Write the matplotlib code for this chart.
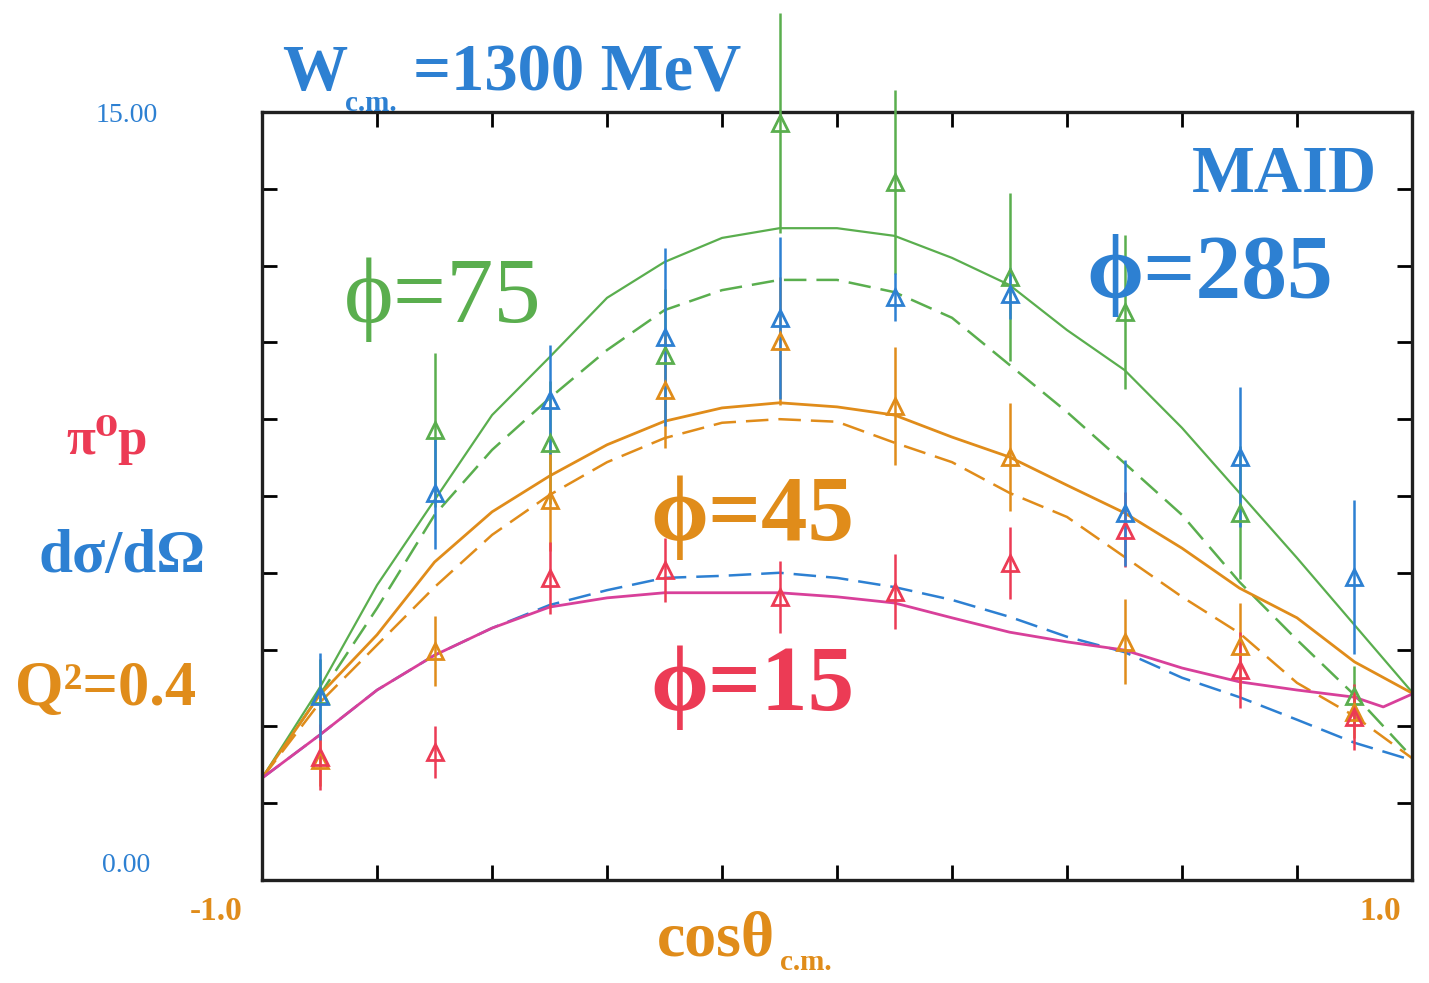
import numpy as np
import matplotlib
matplotlib.use("Agg")
import matplotlib.pyplot as plt

plt.rcParams['font.family'] = ['Liberation Serif', 'DejaVu Serif']

GREEN = '#5aae4e'
ORANGE = '#e08c1a'
BLUE = '#2d80d2'
RED = '#ec3b55'
MAGENTA = '#d8409a'

# MAID curves on a common cos(theta) grid
cos_grid = np.round(np.arange(-1.0, 1.01, 0.1), 2)
maid75 = [1.99, 3.75, 5.76, 7.42, 9.08, 10.21, 11.37, 12.07, 12.54, 12.73, 12.73,
          12.58, 12.15, 11.62, 10.74, 9.96, 8.83, 7.56, 6.29, 4.98, 3.67]
maid75_dash = [1.99, 3.61, 5.31, 7.13, 8.40, 9.41, 10.35, 11.13, 11.52, 11.72, 11.72,
               11.48, 10.98, 10.06, 9.14, 8.14, 7.13, 5.82, 4.69, 3.61, 2.40]
maid45 = [1.99, 3.61, 4.79, 6.21, 7.19, 7.89, 8.50, 8.96, 9.22, 9.32, 9.24,
          9.08, 8.65, 8.26, 7.71, 7.17, 6.48, 5.70, 5.12, 4.26, 3.65]
maid45_dash = [1.99, 3.46, 4.59, 5.72, 6.74, 7.52, 8.16, 8.63, 8.93, 9.00, 8.95,
               8.54, 8.16, 7.56, 7.09, 6.31, 5.53, 4.82, 3.85, 3.20, 2.38]
maid285_dash = [1.99, 2.83, 3.71, 4.39, 4.92, 5.37, 5.66, 5.90, 5.94, 6.00, 5.90,
                5.72, 5.47, 5.14, 4.75, 4.45, 3.95, 3.57, 3.13, 2.68, 2.34]
cos15 = [-1.0, -0.9, -0.8, -0.7, -0.6, -0.5, -0.4, -0.3, -0.2, -0.1, 0.0,
         0.1, 0.2, 0.3, 0.4, 0.5, 0.6, 0.7, 0.8, 0.9, 0.95, 1.0]
maid15 = [1.99, 2.83, 3.71, 4.39, 4.92, 5.33, 5.51, 5.61, 5.61, 5.61, 5.53,
          5.41, 5.12, 4.84, 4.65, 4.49, 4.14, 3.87, 3.71, 3.57, 3.38, 3.63]

# measured cross sections with errors
cos_pts = [-0.9, -0.7, -0.5, -0.3, -0.1, 0.1, 0.3, 0.5, 0.7, 0.9]
phi75 = [3.61, 8.79, 8.54, 10.25, 14.79, 13.63, 11.78, 11.09, 7.17, 3.60]
phi75_err = [0.7, 1.5, 1.2, 1.3, 2.15, 1.8, 1.64, 1.5, 1.3, 0.57]
phi45 = [2.34, 4.47, 7.42, 9.57, 10.53, 9.26, 8.26, 4.65, 4.57, 3.28]
phi45_err = [0.5, 0.68, 1.0, 1.13, 1.25, 1.15, 1.06, 0.83, 0.84, 0.5]
phi15 = [2.40, 2.50, 5.90, 6.05, 5.53, 5.63, 6.19, 6.84, 4.10, 3.18]
phi15_err = [0.65, 0.5, 0.7, 0.63, 0.7, 0.73, 0.71, 0.73, 0.74, 0.65]
phi285 = [3.59, 7.56, 9.38, 10.61, 10.98, 11.39, 11.45, 7.17, 8.26, 5.92]
phi285_err = [0.85, 1.1, 1.07, 1.74, 1.58, 0.47, 0.5, 1.04, 1.37, 1.5]

fig = plt.figure(figsize=(14.29, 9.83), dpi=100)
ax = fig.add_axes([0.1834, 0.1048, 0.8047, 0.7813])

dash = dict(ls=(0, (9, 4)), lw=1.8)
ax.plot(cos_grid, maid75, color=GREEN, lw=1.6, zorder=2)
ax.plot(cos_grid, maid75_dash, color=GREEN, **dash, zorder=2)
ax.plot(cos_grid, maid45, color=ORANGE, lw=2.0, zorder=2)
ax.plot(cos_grid, maid45_dash, color=ORANGE, **dash, zorder=2)
ax.plot(cos_grid, maid285_dash, color=BLUE, **dash, zorder=2)
ax.plot(cos15, maid15, color=MAGENTA, lw=2.0, zorder=2)

for vals, errs, col in [(phi75, phi75_err, GREEN), (phi45, phi45_err, ORANGE),
                        (phi15, phi15_err, RED), (phi285, phi285_err, BLUE)]:
    v = np.array(vals)
    e = np.array(errs)
    ax.vlines(cos_pts, v - e, v + e, color=col, lw=1.8, clip_on=False, zorder=3)
    ax.plot(cos_pts, v, ls='none', marker='^', ms=11, mfc='none', mec=col,
            mew=2.0, clip_on=False, zorder=4)

ax.set_xlim(-1.0, 1.0)
ax.set_ylim(0, 15)
ax.set_xticks(np.arange(-1.0, 1.01, 0.2))
ax.set_yticks(np.arange(0, 15.01, 1.5))
ax.tick_params(direction='in', length=11, width=2, top=True, right=True,
               labelbottom=False, labelleft=False)
for s in ax.spines.values():
    s.set_linewidth(2.4)
    s.set_color('#202020')


def ftxt(px, py, s, **kw):
    fig.text(px / 1429, 1 - py / 983, s, **kw)


# axis end labels
ftxt(127, 116, '15.00', color=BLUE, fontsize=20, ha='center', va='center')
ftxt(126, 865, '0.00', color=BLUE, fontsize=20, ha='center', va='center')
ftxt(216, 912, '-1.0', color=ORANGE, fontsize=24, fontweight='bold', ha='center', va='center')
ftxt(1380, 912, '1.0', color=ORANGE, fontsize=24, fontweight='bold', ha='center', va='center')
ftxt(775, 955, 'cosθ', color=ORANGE, fontsize=46, fontweight='bold', ha='right', va='baseline')
ftxt(780, 970, 'c.m.', color=ORANGE, fontsize=21, fontweight='bold', ha='left', va='baseline')

# title
ftxt(282, 90, 'W', color=BLUE, fontsize=47, fontweight='bold', ha='left', va='baseline')
ftxt(345, 111, 'c.m.', color=BLUE, fontsize=21, fontweight='bold', ha='left', va='baseline')
ftxt(413, 90, '=1300 MeV', color=BLUE, fontsize=48, fontweight='bold', ha='left', va='baseline')

# left side labels
ftxt(107, 440, 'π⁰p', color=RED, fontsize=38, fontweight='bold', ha='center', va='center')
ftxt(122, 557, 'dσ/dΩ', color=BLUE, fontsize=44, fontweight='bold', ha='center', va='center')
ftxt(106, 690, 'Q²=0.4', color=ORANGE, fontsize=45, fontweight='bold', ha='center', va='center')

# curve labels
ftxt(1284, 175, 'MAID', color=BLUE, fontsize=48, fontweight='bold', ha='center', va='center')
ftxt(1210, 275, 'ϕ=285', color=BLUE, fontsize=66, fontweight='bold', ha='center', va='center')
ftxt(443, 300, 'ϕ=75', color=GREEN, fontsize=68, ha='center', va='center')
ftxt(752, 517, 'ϕ=45', color=ORANGE, fontsize=67, fontweight='bold', ha='center', va='center')
ftxt(752, 688, 'ϕ=15', color=RED, fontsize=67, fontweight='bold', ha='center', va='center')

fig.savefig('out.png', dpi=100)
